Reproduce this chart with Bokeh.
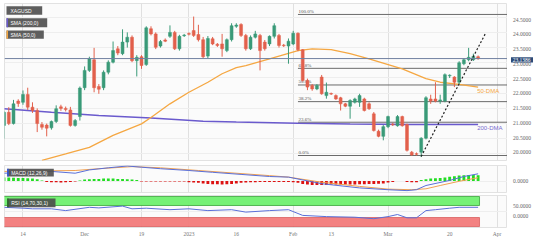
from bokeh.plotting import figure
from bokeh.layouts import column, row
from bokeh.models import (ColumnDataSource, FixedTicker, Label, BoxAnnotation, Span, Range1d)
from bokeh.embed import file_html
from bokeh.resources import INLINE

# ---------------- data ----------------
# candle index 0 = 8 Nov 2022 ... 100 = 28 Mar 2023 (trading days)
opens  = [20.94,21.37,21.00,21.74,21.70,21.96,21.54,21.43,20.97,20.95,
          20.86,21.07,21.55,21.50,21.45,20.94,21.23,22.18,22.75,23.10,
          22.22,22.18,22.69,23.02,23.46,23.30,23.68,23.84,23.07,23.20,
          22.94,24.12,23.95,23.55,23.75,23.87,24.00,23.46,23.89,23.96,
          24.06,23.93,23.76,23.22,23.79,23.61,23.62,23.40,23.76,24.20,
          24.26,23.90,23.46,23.84,23.90,23.68,23.62,23.87,23.90,23.58,
          23.55,23.62,23.97,23.43,22.42,22.25,22.14,22.53,21.92,21.99,
          21.92,21.85,21.65,21.57,21.70,21.70,21.81,21.65,21.32,20.75,
          20.58,20.90,20.98,20.93,21.23,20.97,20.06,20.01,20.06,20.52,
          21.81,21.81,21.74,21.74,22.57,22.53,22.36,22.97,23.10,23.10,
          23.20]
highs  = [21.42,21.54,21.78,21.80,22.09,22.18,21.70,21.50,21.05,21.00,
          21.10,21.60,21.62,21.56,21.55,21.15,22.22,22.88,23.20,23.49,
          22.30,22.75,23.08,23.70,23.55,24.10,24.00,23.90,23.25,23.25,
          24.20,24.20,24.00,23.75,23.80,24.23,24.05,23.92,23.95,24.00,
          24.52,24.25,23.85,23.88,23.85,23.65,23.95,23.80,24.30,24.30,
          24.30,23.95,23.90,24.05,23.95,23.75,23.90,24.30,23.95,23.62,
          23.80,24.05,24.00,23.45,22.48,22.30,22.30,22.60,22.35,22.02,
          21.96,21.88,21.68,21.80,21.85,21.98,21.85,21.70,21.38,20.80,
          20.95,21.26,21.03,21.28,21.26,21.00,20.10,20.05,20.55,21.90,
          21.95,22.36,21.95,22.65,22.62,22.56,23.05,23.15,23.49,23.30,
          23.24]
lows   = [20.50,20.95,20.97,21.55,21.62,21.45,21.35,20.72,20.80,20.58,
          20.80,21.02,21.42,21.40,20.90,20.90,21.10,22.10,22.70,22.03,
          21.98,22.10,22.62,22.98,23.25,23.25,23.50,23.02,22.55,22.80,
          22.90,23.90,23.45,23.50,23.68,23.82,23.42,23.40,23.85,23.90,
          23.85,23.70,23.15,23.15,23.58,23.52,23.20,23.35,23.70,24.15,
          23.85,23.40,23.42,23.80,22.75,23.40,23.55,23.80,23.50,23.52,
          22.97,23.58,23.38,22.38,22.10,22.08,22.10,21.95,21.82,21.94,
          21.78,21.43,21.54,21.16,21.66,21.55,21.40,21.45,20.74,20.55,
          20.45,20.85,20.92,20.90,20.90,20.08,19.94,19.95,19.90,20.48,
          21.65,21.70,21.65,21.70,22.50,22.20,22.30,22.92,23.05,23.06,
          23.10]
closes = [21.37,21.00,21.65,21.66,21.96,21.54,21.43,21.00,20.88,20.85,
          21.07,21.49,21.50,21.46,20.94,21.10,22.17,22.75,23.13,22.18,
          22.13,22.69,23.02,23.40,23.32,23.68,23.84,23.07,23.18,22.91,
          24.15,23.95,23.51,23.70,23.71,24.00,23.46,23.87,23.91,23.94,
          23.90,23.76,23.20,23.80,23.62,23.57,23.46,23.76,24.22,24.24,
          23.90,23.46,23.84,23.95,23.40,23.46,23.87,24.22,23.57,23.56,
          23.71,23.97,23.43,22.42,22.20,22.14,22.25,21.98,22.03,21.97,
          21.81,21.65,21.57,21.76,21.81,21.92,21.43,21.49,20.77,20.58,
          20.90,21.23,20.96,21.23,20.93,20.12,19.97,19.99,20.52,21.85,
          21.74,21.74,21.78,22.61,22.59,22.36,23.00,23.10,23.18,23.21,
          23.1386]
last_price = 23.1386

sma50_x = [8, 13, 18, 23, 29, 31, 35, 39, 43, 46, 49, 51, 56, 62, 65, 69, 73, 77, 84, 89, 92, 96, 100]
sma50_y = [19.79, 20.00, 20.22, 20.61, 20.99, 21.20, 21.65, 22.03, 22.36, 22.64, 22.84, 22.91,
           23.13, 23.40, 23.46, 23.43, 23.30, 23.13, 22.80, 22.48, 22.36, 22.29, 22.20]
sma200_x = [0, 10, 20, 31, 37, 42, 49, 62, 73, 85, 100]
sma200_y = [21.49, 21.37, 21.27, 21.18, 21.13, 21.08, 21.05, 21.01, 20.99, 20.97, 20.97]

fib_low, fib_high, fib_start = 19.95, 24.59, 62
fib_ratios = [0.0, 0.236, 0.382, 0.5, 0.618, 1.0]
fib_texts = ["0.0%", "23.6%", "38.2%", "50.0%", "61.8%", "100.0%"]

trend_x = [88, 101.6]
trend_y = [19.92, 23.98]

macd_x = [0, 6, 10, 15, 18, 22, 26, 29, 33, 39, 44, 50, 56, 60, 67, 75, 81, 85, 87, 89, 94, 97, 100]
macd_y = [0.26, 0.29, 0.32, 0.26, 0.37, 0.44, 0.50, 0.46, 0.41, 0.35, 0.29, 0.22, 0.15, 0.13,
          -0.09, -0.23, -0.29, -0.32, -0.29, -0.15, 0.02, 0.15, 0.24]
signal_x = [0, 15, 20, 27, 33, 41, 56, 60, 67, 75, 81, 86, 89, 92, 96, 100]
signal_y = [0.32, 0.35, 0.41, 0.48, 0.44, 0.35, 0.18, 0.13, -0.04, -0.18, -0.27, -0.29,
            -0.26, -0.15, -0.01, 0.11]
hist = [0.12,0.12,0.11,0.10,0.10,0.09,0.08,0.06,
        0.02,
        -0.03,-0.04,-0.04,-0.05,-0.04,-0.03,-0.02,
        0.02,
        0.05,0.06,0.07,0.07,0.08,0.08,0.08,0.07,0.07,0.06,0.05,
        0.03,
        -0.02,-0.02,-0.02,-0.02,-0.02,-0.02,-0.02,-0.02,-0.02,-0.02,
        -0.04,-0.05,-0.06,-0.08,-0.10,-0.11,-0.11,-0.12,-0.11,-0.10,-0.08,-0.06,-0.05,-0.04,-0.04,-0.03,-0.03,
        -0.03,-0.03,-0.03,-0.03,-0.03,-0.04,
        -0.06,-0.10,-0.12,-0.13,-0.13,-0.13,-0.13,-0.12,-0.12,-0.12,-0.12,-0.12,-0.12,-0.11,-0.11,-0.10,-0.10,-0.09,-0.08,
        -0.05,-0.03,0.0,0.0,-0.03,-0.04,-0.04,
        0.03,0.06,0.08,0.09,0.10,0.12,0.14,0.16,0.18,0.19,0.20,0.20,0.19]

rsi_x = [0, 4, 6, 10, 13, 18, 20, 25, 27, 30, 35, 39, 43, 48, 51, 56, 60, 63, 68, 74, 78,
         81, 83, 85, 87, 89, 91, 94, 96, 100]
rsi_y = [64, 61, 59, 59, 53, 64, 62, 68, 59, 61, 56, 59, 53, 56, 48, 53, 56, 37, 33, 31, 26,
         33, 40, 29, 29, 53, 56, 61, 64, 64]
rsi_upper, rsi_lower = 70, 30

x_tick_idx = [4, 17, 29, 39, 49, 61, 69, 81, 94, 104]
x_tick_labels = ["14", "Dec", "19", "2023", "16", "Feb", "13", "Mar", "20", "Apr"]
x_grid_idx = [4, 29, 39, 61, 81, 104]
price_ticks = [20.0, 20.5, 21.0, 21.5, 22.0, 22.5, 23.0, 23.5, 24.0, 24.5]
macd_ticks = [0.0]
rsi_ticks = [0.0, 50.0]

# ---------------- styling ----------------
X0, X1 = 0.1, 106.2
PLOT_W, AXIS_W = 507, 26
GREEN, RED = "#3a9a78", "#e2604c"
ORANGE, PURPLE = "#f5a742", "#6a5acd"
AXIS_FONT = "Liberation Serif"
BOX_FILL = "#4d4d4d"


def make_plot(height, yr, top, bottom, xaxis=False):
    p = figure(width=PLOT_W, height=height, x_range=Range1d(X0, X1), y_range=Range1d(*yr),
               output_backend="svg", toolbar_location=None, y_axis_location=None,
               x_axis_location="below" if xaxis else None,
               min_border_left=4, min_border_right=0, min_border_top=top,
               min_border_bottom=bottom, background_fill_color="#fbfbfb",
               border_fill_color="white", outline_line_color="#e2e2e2")
    p.xgrid.ticker = FixedTicker(ticks=x_grid_idx)
    p.xgrid.grid_line_color = "#e0e0e0"
    p.ygrid.grid_line_color = "#eeeeee"
    return p


def make_axis(height, yr, top, bottom, ticks, price=None):
    """Right-hand price scale drawn as a narrow companion figure with the same y mapping."""
    frame_h = height - top - bottom
    ppx = (yr[1] - yr[0]) / frame_h
    a = figure(width=AXIS_W, height=height, x_range=Range1d(0, AXIS_W),
               y_range=Range1d(yr[0] - bottom * ppx, yr[1] + top * ppx),
               output_backend="svg", toolbar_location=None, x_axis_location=None,
               y_axis_location=None, min_border_left=0, min_border_right=0,
               min_border_top=0, min_border_bottom=0, background_fill_color="white",
               border_fill_color="white", outline_line_color=None)
    a.xgrid.visible = False
    a.ygrid.visible = False
    a.text(x=[5.5] * len(ticks), y=ticks, text=[f"{t:.4f}" for t in ticks],
           text_font_size="5.5px", text_font=AXIS_FONT, text_color="#666666",
           text_baseline="middle")
    if price is not None:
        half = 2.7 * ppx
        a.quad(left=[3.5], right=[AXIS_W], bottom=[price - half], top=[price + half],
               fill_color="#2d4b78", line_color=None)
        a.text(x=[5.2], y=[price], text=[f"{price:.4f}"], text_font_size="5.5px",
               text_font=AXIS_FONT, text_color="white", text_baseline="middle")
    return a


def add_box(p, l, r, b, t, text, strip=None):
    p.add_layout(BoxAnnotation(left=l, right=r, bottom=b, top=t, left_units="screen",
                               right_units="screen", bottom_units="screen", top_units="screen",
                               fill_color=BOX_FILL, fill_alpha=0.9, line_color=None))
    if strip:
        p.add_layout(BoxAnnotation(left=l, right=l + 1.5, bottom=b, top=t, left_units="screen",
                                   right_units="screen", bottom_units="screen",
                                   top_units="screen", fill_color=strip, fill_alpha=1,
                                   line_color=None))
    p.add_layout(Label(x=l + 4, y=(b + t) / 2, x_units="screen", y_units="screen", text=text,
                       text_color="white", text_font_size="5px", text_baseline="middle",
                       text_font="Liberation Sans"))


# ---------------- main price panel ----------------
MAIN = (162, (19.786, 24.95), 3, 2)
main = make_plot(*MAIN)
main.ygrid.ticker = FixedTicker(ticks=price_ticks)

colors = [GREEN if c >= o else RED for o, c in zip(opens, closes)]
src = ColumnDataSource(dict(x=list(range(len(opens))), h=highs, l=lows,
                            top=[max(o, c) for o, c in zip(opens, closes)],
                            bottom=[min(o, c) for o, c in zip(opens, closes)], color=colors))

fib_levels = [fib_low + r * (fib_high - fib_low) for r in fib_ratios]
main.segment(x0=[fib_start] * len(fib_levels), x1=[X1] * len(fib_levels), y0=fib_levels,
             y1=fib_levels, line_color="#6b6b6b", line_width=1)
main.text(x=[fib_start + 0.1] * len(fib_levels), y=[v + 0.02 for v in fib_levels],
          text=fib_texts, text_font_size="5px", text_color="#555555",
          text_baseline="bottom", text_font="Liberation Sans")

main.add_layout(Span(location=last_price, dimension="width", line_color="#7080a0",
                     line_width=1))

main.line(sma200_x, sma200_y, line_color=PURPLE, line_width=1.5)
main.line(sma50_x, sma50_y, line_color=ORANGE, line_width=1.3)

main.segment(x0="x", x1="x", y0="h", y1="l", line_color="color", line_width=1, source=src)
main.vbar(x="x", width=0.62, top="top", bottom="bottom", fill_color="color",
          line_color="color", line_width=0.5, source=src)

main.line(trend_x, trend_y, line_color="#222222", line_width=1.2, line_dash="2 2")

main.add_layout(Label(x=sma50_x[-1] - 0.2, y=sma50_y[-1] - 0.14, text="50-DMA",
                      text_color=ORANGE, text_font_size="6px", text_baseline="middle",
                      text_font="Liberation Sans"))
main.add_layout(Label(x=sma200_x[-1] - 0.2, y=sma200_y[-1] - 0.11, text="200-DMA",
                      text_color="#7a6ad0", text_font_size="6px", text_baseline="middle",
                      text_font="Liberation Sans"))

add_box(main, 2, 37.7, 145.7, 154.3, "XAGUSD")
add_box(main, 2, 42.7, 133.3, 142.3, "SMA (200,0)", PURPLE)
add_box(main, 2, 39.3, 121.7, 130.0, "SMA (50,0)", ORANGE)
main_axis = make_axis(*MAIN, price_ticks, price=last_price)

# ---------------- MACD panel ----------------
MACD = (32, (-0.383, 0.517), 3, 2)
macd = make_plot(*MACD)
macd.ygrid.ticker = FixedTicker(ticks=macd_ticks)
hsrc = ColumnDataSource(dict(x=list(range(len(hist))), top=hist,
                             color=["#22dd22" if v >= 0 else "#dd1111" for v in hist]))
macd.vbar(x="x", width=0.6, top="top", bottom=0, fill_color="color", line_color=None,
          source=hsrc)
macd.line(signal_x, signal_y, line_color="#f0a050", line_width=1)
macd.line(macd_x, macd_y, line_color="#5a6fd8", line_width=1)
add_box(macd, 2.7, 49.3, 16, 23.7, "MACD (12,26,9)", "#3355dd")
macd_axis = make_axis(*MACD, macd_ticks)

# ---------------- RSI panel ----------------
RSI = (50, (-3.3, 103.3), 1, 17)
rsi = make_plot(*RSI, xaxis=True)
rsi.ygrid.ticker = FixedTicker(ticks=[50])
rsi.quad(left=[X0 - 1], right=[len(closes) - 0.7], bottom=[rsi_upper], top=[100],
         fill_color="#6ff06f", fill_alpha=0.95, line_color="#3aa43a", line_width=0.8)
rsi.quad(left=[X0 - 1], right=[len(closes) - 0.7], bottom=[0], top=[rsi_lower],
         fill_color="#f27a7a", fill_alpha=0.95, line_color="#d86060", line_width=0.8)
rsi.line(rsi_x, rsi_y, line_color="#5a6fd8", line_width=1)
add_box(rsi, 2.7, 51, 20.3, 29, "RSI (14,70,30,1)", "#2a6a2a")
rsi_axis = make_axis(*RSI, rsi_ticks)

xa = rsi.xaxis[0]
xa.ticker = FixedTicker(ticks=x_tick_idx)
xa.major_label_overrides = {k: v for k, v in zip(x_tick_idx, x_tick_labels)}
xa.axis_line_color = None
xa.major_tick_line_color = None
xa.minor_tick_line_color = None
xa.major_tick_out = 0
xa.major_tick_in = 0
xa.major_label_standoff = 3
xa.major_label_text_font_size = "5.5px"
xa.major_label_text_font = AXIS_FONT
xa.major_label_text_color = "#777777"

layout = column(row(main, main_axis, spacing=0), row(macd, macd_axis, spacing=0),
                row(rsi, rsi_axis, spacing=0), spacing=0)
open("out.html", "w").write(file_html(layout, INLINE))
